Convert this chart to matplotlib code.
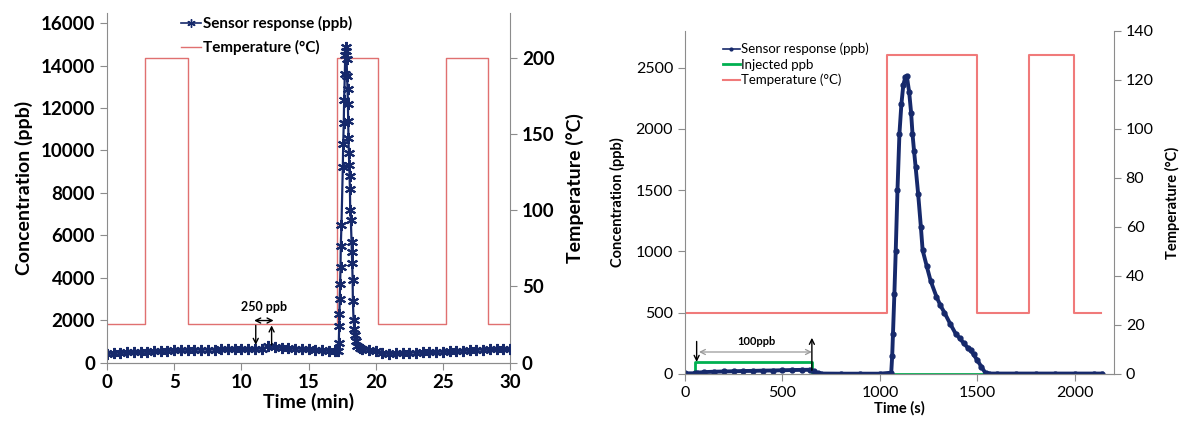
import matplotlib
matplotlib.use("Agg")
import matplotlib.pyplot as plt
from matplotlib.lines import Line2D

plt.rcParams['font.family'] = ['Lato', 'DejaVu Sans']

# ---- left panel: time in minutes ----
left_sensor_t = [0, 0.5, 1, 1.5, 2, 2.5, 3, 3.5, 4, 4.5, 5, 5.5, 6, 6.5, 7, 7.5, 8, 8.5,
                 9, 9.5, 10, 10.5, 11, 11.5, 12, 12.5, 13, 13.5, 14, 14.5, 15, 15.5, 16,
                 16.5, 17, 17.2, 17.25, 17.28, 17.3, 17.32, 17.35, 17.38, 17.4, 17.45,
                 17.55, 17.58, 17.62, 17.65, 17.7, 17.73, 17.77, 17.8, 17.83, 17.87, 17.9,
                 17.93, 17.95, 17.97, 18.0, 18.03, 18.05, 18.08, 18.1, 18.15, 18.2, 18.22,
                 18.25, 18.28, 18.3, 18.35, 18.4, 18.45, 18.5, 18.6, 18.8, 19, 19.5, 20,
                 20.5, 21, 21.5, 22, 22.5, 23, 23.5, 24, 24.5, 25, 25.5, 26, 26.5, 27,
                 27.5, 28, 28.5, 29, 29.5, 30]
left_sensor_ppb = [420, 450, 470, 480, 490, 500, 510, 520, 540, 560, 590, 600, 600, 600,
                   610, 610, 610, 620, 620, 620, 620, 630, 630, 660, 760, 740, 700, 680,
                   660, 640, 620, 600, 580, 560, 540, 550, 900, 1700, 2300, 3000, 3700,
                   4500, 5500, 6500, 9200, 10300, 11300, 12400, 13600, 14500, 14900, 14700,
                   14300, 13500, 12900, 12200, 11400, 10600, 9900, 9300, 8800, 8200, 7200,
                   6700, 5700, 5200, 4700, 3900, 2900, 2000, 1600, 1300, 1000, 800, 700,
                   650, 590, 520, 450, 420, 430, 450, 460, 470, 480, 490, 500, 510, 520,
                   540, 560, 590, 600, 610, 620, 620, 630, 630]
left_temp_t = [0, 2.8, 6.0, 17.1, 20.15, 25.2, 28.35, 30]
left_temp_c = [25, 200, 25, 200, 25, 200, 25, 25]

# ---- right panel: time in seconds ----
right_sensor_t = [0, 50, 60, 100, 150, 200, 250, 300, 350, 400, 450, 500, 550, 600, 640,
                  660, 680, 700, 800, 900, 1000, 1058, 1063, 1067, 1074, 1081, 1090, 1100,
                  1110, 1120, 1130, 1138, 1150, 1160, 1167, 1175, 1183, 1196, 1210, 1219,
                  1240, 1260, 1290, 1310, 1331, 1360, 1388, 1410, 1430, 1450, 1465, 1480,
                  1500, 1520, 1542, 1560, 1600, 1700, 1800, 1900, 2000, 2100, 2138]
right_sensor_ppb = [5, 5, 10, 15, 18, 20, 22, 24, 25, 27, 28, 30, 32, 33, 34, 20, 5, 3, 2,
                    2, 2, 10, 150, 330, 650, 1000, 1500, 1960, 2200, 2360, 2420, 2430,
                    2300, 2130, 1960, 1820, 1690, 1470, 1200, 1010, 880, 760, 630, 560,
                    500, 410, 330, 290, 250, 215, 195, 160, 110, 60, 5, 3, 3, 3, 3, 3, 3,
                    3, 3]
right_inj_t = [0, 52, 652, 2138]
right_inj_ppb = [0, 100, 0, 0]
right_temp_t = [0, 1038, 1500, 1763, 1994, 2135]
right_temp_c = [25, 130, 25, 130, 25, 25]

navy = '#16296b'
grey = '#8c8c8c'

fig = plt.figure(figsize=(11.84, 4.23), dpi=100)


def style_axes(ax, axr):
    ax.spines['top'].set_visible(False)
    axr.spines['top'].set_visible(False)
    ax.spines['right'].set_visible(False)
    axr.spines['left'].set_visible(False)
    for sp in [ax.spines['left'], ax.spines['bottom'], axr.spines['right'], axr.spines['bottom']]:
        sp.set_color(grey)
    ax.tick_params(colors=grey, labelcolor='black', direction='out', length=5)
    axr.tick_params(colors=grey, labelcolor='black', direction='out', length=5)


def arrow(ax, xy, xytext, style, color='black', lw=1.0):
    ax.annotate('', xy=xy, xytext=xytext,
                arrowprops=dict(arrowstyle=style, color=color, lw=lw,
                                shrinkA=0, shrinkB=0, mutation_scale=9))


# ===== left =====
ax1 = fig.add_axes([0.0904, 0.143, 0.3404, 0.826])
ax1r = ax1.twinx()
ax1.set_zorder(ax1r.get_zorder() + 1)
ax1.patch.set_visible(False)
ax1r.plot(left_temp_t, left_temp_c, drawstyle='steps-post', color='#e07070', lw=1.0)
ax1.plot(left_sensor_t, left_sensor_ppb, color=navy, lw=1.6, marker=(6, 2, 0),
         markersize=8, markeredgewidth=1.5)
ax1.set_xlim(0, 30)
ax1.set_ylim(0, 16480)
ax1r.set_ylim(0, 229.8)
ax1.set_xticks(range(0, 31, 5))
ax1.set_yticks(range(0, 16001, 2000))
ax1r.set_yticks(range(0, 201, 50))
style_axes(ax1, ax1r)
for lab in ax1.get_xticklabels() + ax1.get_yticklabels() + ax1r.get_yticklabels():
    lab.set_fontsize(13.5)
    lab.set_fontweight('bold')
ax1.set_xlabel('Time (min)', fontsize=14, fontweight='bold', labelpad=1)
ax1.set_ylabel('Concentration (ppb)', fontsize=14, fontweight='bold', labelpad=6)
ax1r.set_ylabel('Temperature (°C)', fontsize=14, fontweight='bold', labelpad=8)

arrow(ax1, (11.07, 830), (11.07, 1750), '->')
arrow(ax1, (12.25, 1750), (12.25, 830), '->')
arrow(ax1, (10.95, 1980), (12.4, 1980), '<->')
ax1.text(11.65, 2640, '250 ppb', ha='center', va='center', fontsize=9, fontweight='bold')

h1 = [Line2D([], [], color=navy, lw=1.2, marker=(6, 2, 0), markersize=6),
      Line2D([], [], color='#e07070', lw=1.0)]
ax1.legend(h1, ['Sensor response (ppb)', 'Temperature (°C)'], loc='upper left',
           bbox_to_anchor=(0.15, 1.03), frameon=False, handlelength=1.3,
           handletextpad=0.1, labelspacing=0.55, prop={'size': 11, 'weight': 'bold'})

# ===== right =====
ax2 = fig.add_axes([0.5785, 0.116, 0.3623, 0.811])
ax2r = ax2.twinx()
ax2.set_zorder(ax2r.get_zorder() + 1)
ax2.patch.set_visible(False)
ax2r.plot(right_temp_t, right_temp_c, drawstyle='steps-post', color='#f07a7a', lw=1.5)
ax2.plot(right_inj_t, right_inj_ppb, drawstyle='steps-post', color='#00b050', lw=2.0)
ax2.plot(right_sensor_t, right_sensor_ppb, color=navy, lw=2.8, marker='o',
         markersize=3.5)
ax2.set_xlim(0, 2200)
ax2.set_ylim(0, 2800)
ax2r.set_ylim(0, 140)
ax2.set_xticks(range(0, 2001, 500))
ax2.set_yticks(range(0, 2501, 500))
ax2r.set_yticks(range(0, 141, 20))
style_axes(ax2, ax2r)
for lab in ax2.get_xticklabels() + ax2.get_yticklabels() + ax2r.get_yticklabels():
    lab.set_fontsize(11.5)
ax2.set_xlabel('Time (s)', fontsize=10.5, fontweight='bold', labelpad=1)
ax2.set_ylabel('Concentration (ppb)', fontsize=10.5, fontweight='bold', labelpad=8)
ax2r.set_ylabel('Temperature (°C)', fontsize=10.5, fontweight='bold', labelpad=8)

arrow(ax2, (60, 98), (60, 265), '->')
arrow(ax2, (651, 295), (651, 30), '->')
arrow(ax2, (72, 179), (651, 179), '<->', color='#999999', lw=0.9)
ax2.text(365, 265, '100ppb', ha='center', va='center', fontsize=8, fontweight='bold')

h2 = [Line2D([], [], color=navy, lw=1.2, marker='o', markersize=2),
      Line2D([], [], color='#00b050', lw=2.0),
      Line2D([], [], color='#f07a7a', lw=1.5)]
ax2.legend(h2, ['Sensor response (ppb)', 'Injected ppb', 'Temperature (°C)'],
           loc='upper left', bbox_to_anchor=(0.06, 1.0), frameon=False, handlelength=1.3,
           handletextpad=0.1, labelspacing=0.25, prop={'size': 9.5})

fig.savefig('out.png', dpi=100)
